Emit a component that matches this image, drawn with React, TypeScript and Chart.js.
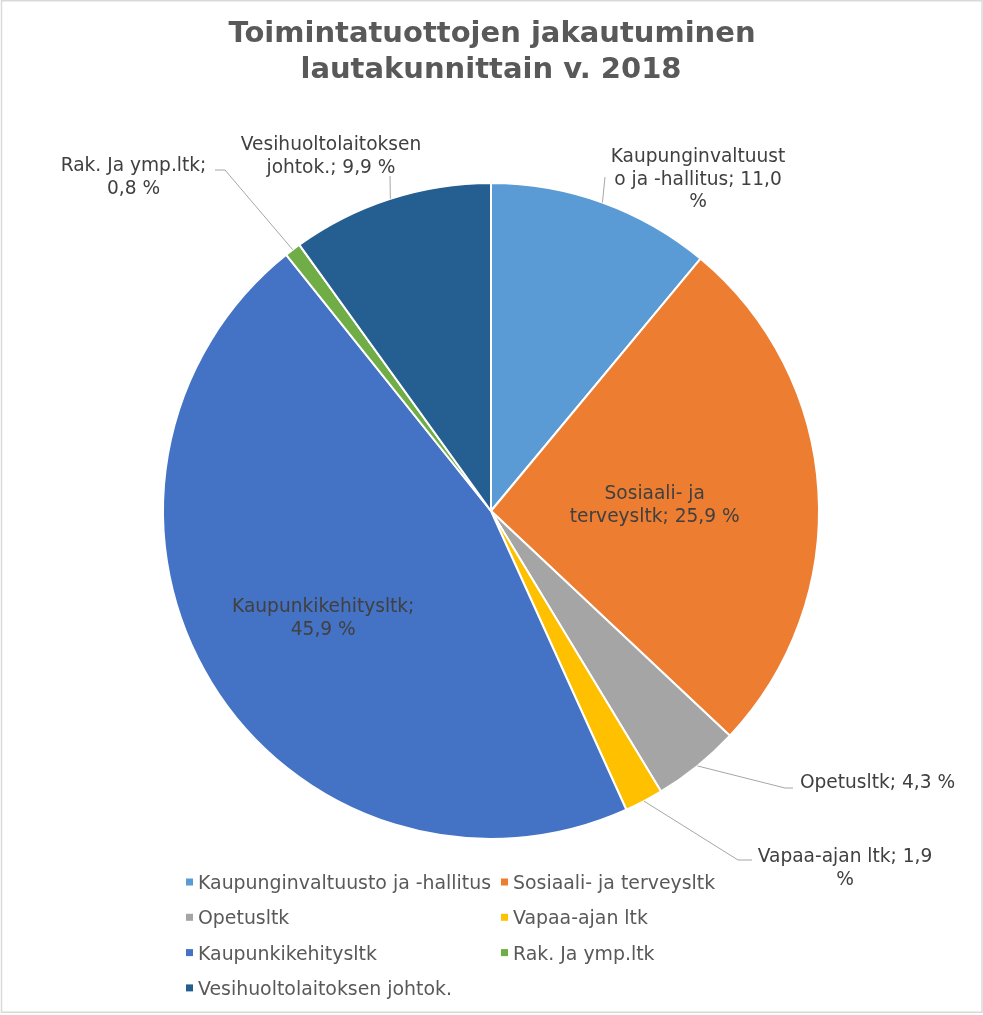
import React, { useEffect, useRef } from "react";
import { Chart, registerables } from "chart.js";

Chart.register(...registerables);

const TITLE_LINES = ["Toimintatuottojen jakautuminen", "lautakunnittain v. 2018"];

const categories = [
  "Kaupunginvaltuusto ja -hallitus",
  "Sosiaali- ja terveysltk",
  "Opetusltk",
  "Vapaa-ajan ltk",
  "Kaupunkikehitysltk",
  "Rak. Ja ymp.ltk",
  "Vesihuoltolaitoksen johtok.",
];

const shares = [11.0, 25.9, 4.3, 1.9, 45.9, 0.8, 9.9];

const colors = ["#5B9BD5", "#ED7D31", "#A5A5A5", "#FFC000", "#4472C4", "#70AD47", "#255E91"];

// data label text, wrapped as in the reference
const labelLines = [
  ["Kaupunginvaltuust", "o ja -hallitus; 11,0", "%"],
  ["Sosiaali- ja", "terveysltk; 25,9 %"],
  ["Opetusltk; 4,3 %"],
  ["Vapaa-ajan ltk; 1,9", "%"],
  ["Kaupunkikehitysltk;", "45,9 %"],
  ["Rak. Ja ymp.ltk;", "0,8 %"],
  ["Vesihuoltolaitoksen", "johtok.; 9,9 %"],
];

// label placement (layout only)
type LabelPos =
  | { inside: number }
  | { cx: number; y: number; pts: number[][] };
const labelPos: LabelPos[] = [
  { cx: 698, y: 162, pts: [[605, 177]] },
  { inside: 0.5 },
  { cx: 877.5, y: 788, pts: [[785, 788], [793, 788]] },
  { cx: 845, y: 862, pts: [[738, 860], [752, 860]] },
  { inside: 0.6 },
  { cx: 133.5, y: 171, pts: [[225, 170], [215, 170]] },
  { cx: 331, y: 150, pts: [[390, 176]] },
];

const FONT = '"DejaVu Sans", Verdana, sans-serif';
const LABEL_SIZE = 18.6;
const LEGEND_SIZE = 18.9;
const LINE_H = 22.5;

const overlayPlugin = {
  id: "overlay",
  afterDatasetsDraw(chart: any) {
    const ctx = chart.ctx as CanvasRenderingContext2D;
    const meta = chart.getDatasetMeta(0);
    ctx.save();
    // leader lines + labels
    meta.data.forEach((arc: any, i: number) => {
      const p = arc.getProps(["x", "y", "startAngle", "endAngle", "outerRadius"], true);
      const mid = (p.startAngle + p.endAngle) / 2;
      const lines = labelLines[i];
      const pos = labelPos[i] as any;
      ctx.font = `${LABEL_SIZE}px ${FONT}`;
      ctx.fillStyle = "#404040";
      ctx.textAlign = "center";
      ctx.textBaseline = "alphabetic";
      if (pos.inside !== undefined) {
        const cx = p.x + Math.cos(mid) * p.outerRadius * pos.inside;
        const cy = p.y + Math.sin(mid) * p.outerRadius * pos.inside;
        const top = cy - ((lines.length - 1) * LINE_H) / 2;
        lines.forEach((t: string, k: number) => {
          ctx.fillText(t, cx, top + k * LINE_H + 9.5);
        });
      } else {
        const ax = p.x + Math.cos(mid) * p.outerRadius;
        const ay = p.y + Math.sin(mid) * p.outerRadius;
        ctx.strokeStyle = "#A6A6A6";
        ctx.lineWidth = 1;
        ctx.beginPath();
        ctx.moveTo(ax, ay);
        pos.pts.forEach((pt: number[]) => ctx.lineTo(pt[0], pt[1]));
        ctx.stroke();
        lines.forEach((t: string, k: number) => {
          ctx.fillText(t, pos.cx, pos.y + k * LINE_H);
        });
      }
    });

    // title
    ctx.font = `bold 29px ${FONT}`;
    ctx.fillStyle = "#595959";
    ctx.textAlign = "center";
    ctx.fillText(TITLE_LINES[0], 492, 42);
    ctx.fillText(TITLE_LINES[1], 491, 78);

    // legend
    const colX = [186, 501];
    ctx.font = `${LEGEND_SIZE}px ${FONT}`;
    ctx.textAlign = "left";
    categories.forEach((name, i) => {
      const col = i % 2;
      const row = Math.floor(i / 2);
      const y = 882 + row * 35.3;
      const x = colX[col];
      ctx.fillStyle = colors[i];
      ctx.fillRect(x, y - 3.5, 7, 7);
      ctx.fillStyle = "#595959";
      ctx.fillText(name, x + 12, y + 7);
    });

    // chart border
    ctx.strokeStyle = "#D9D9D9";
    ctx.lineWidth = 1.5;
    ctx.strokeRect(1.5, 0.75, 980.5, 1011.5);
    ctx.restore();
  },
};

export default function App() {
  const ref = useRef<HTMLCanvasElement>(null);
  useEffect(() => {
    if (!ref.current) return;
    const chart = new Chart(ref.current, {
      type: "pie",
      data: {
        labels: categories,
        datasets: [
          {
            data: shares,
            backgroundColor: colors,
            borderColor: "#FFFFFF",
            borderWidth: 2,
            hoverOffset: 0,
            offset: 0,
          },
        ],
      },
      options: {
        responsive: false,
        animation: false,
        events: [],
        layout: { padding: { left: 162, right: 163, top: 182, bottom: 175 } },
        plugins: {
          legend: { display: false },
          title: { display: false },
          tooltip: { enabled: false },
        },
      },
      plugins: [overlayPlugin],
    });
    return () => chart.destroy();
  }, []);
  return (
    <div style={{ position: "fixed", left: 0, top: 0, width: 983, height: 1015, background: "#FFFFFF" }}>
      <canvas ref={ref} width={983} height={1015} style={{ display: "block", width: 983, height: 1015 }} />
    </div>
  );
}
